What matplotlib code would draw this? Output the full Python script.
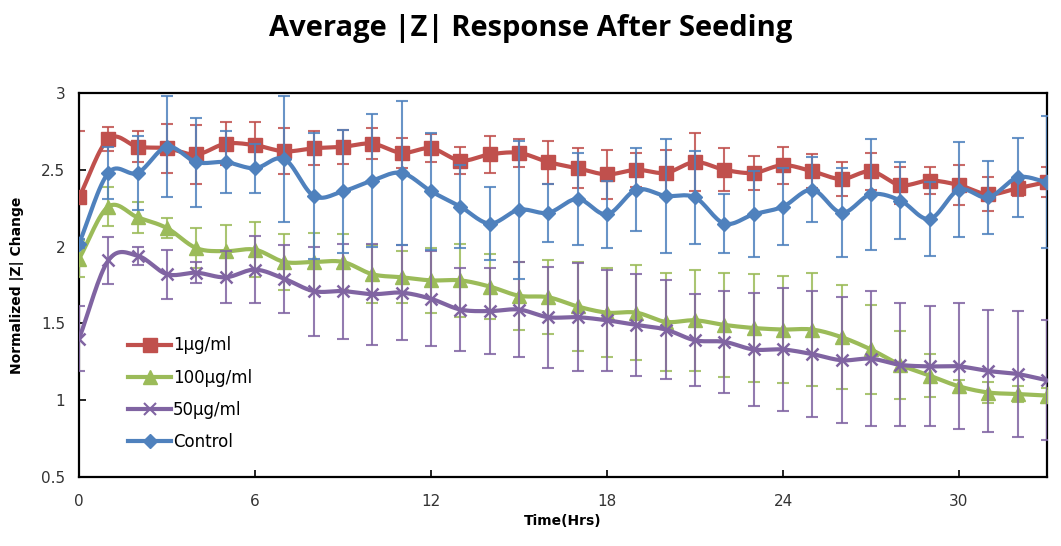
import numpy as np
import matplotlib
matplotlib.use("Agg")
import matplotlib.pyplot as plt
from matplotlib.lines import Line2D

hours = list(range(34))

dose_1 = [2.32, 2.70, 2.65, 2.64, 2.60, 2.67, 2.66, 2.62, 2.64, 2.65, 2.67, 2.61,
          2.64, 2.56, 2.60, 2.61, 2.55, 2.51, 2.47, 2.50, 2.48, 2.55, 2.50, 2.48,
          2.53, 2.49, 2.44, 2.49, 2.40, 2.43, 2.40, 2.34, 2.38, 2.42]
err_1 = [0.43, 0.08, 0.10, 0.16, 0.19, 0.14, 0.15, 0.15, 0.11, 0.11, 0.10, 0.10,
         0.09, 0.09, 0.12, 0.09, 0.14, 0.13, 0.16, 0.11, 0.15, 0.19, 0.14, 0.11,
         0.12, 0.11, 0.11, 0.12, 0.12, 0.09, 0.13, 0.11, 0.05, 0.10]

dose_100 = [1.92, 2.26, 2.19, 2.12, 1.99, 1.97, 1.98, 1.90, 1.90, 1.90, 1.82, 1.80,
            1.78, 1.78, 1.74, 1.68, 1.67, 1.61, 1.57, 1.57, 1.51, 1.52, 1.49, 1.47,
            1.46, 1.46, 1.41, 1.33, 1.23, 1.16, 1.09, 1.05, 1.04, 1.03]
err_100 = [0.12, 0.125, 0.10, 0.065, 0.13, 0.17, 0.18, 0.18, 0.19, 0.18, 0.19, 0.17,
           0.21, 0.24, 0.21, 0.22, 0.24, 0.29, 0.29, 0.31, 0.32, 0.33, 0.34, 0.35,
           0.35, 0.37, 0.34, 0.29, 0.22, 0.14, 0.04, 0.07, 0.05, 0.05]

dose_50 = [1.40, 1.91, 1.94, 1.82, 1.83, 1.80, 1.85, 1.79, 1.71, 1.71, 1.69, 1.70,
           1.66, 1.59, 1.58, 1.59, 1.54, 1.54, 1.52, 1.49, 1.46, 1.39, 1.38, 1.33,
           1.33, 1.30, 1.26, 1.27, 1.23, 1.22, 1.22, 1.19, 1.17, 1.13]
err_50 = [0.21, 0.155, 0.06, 0.16, 0.07, 0.17, 0.22, 0.22, 0.29, 0.31, 0.33, 0.31,
          0.31, 0.27, 0.28, 0.31, 0.33, 0.35, 0.33, 0.33, 0.32, 0.30, 0.33, 0.37,
          0.40, 0.41, 0.41, 0.44, 0.40, 0.39, 0.41, 0.40, 0.41, 0.39]

control = [2.02, 2.48, 2.48, 2.65, 2.55, 2.55, 2.51, 2.57, 2.33, 2.36, 2.43, 2.48,
           2.36, 2.26, 2.15, 2.24, 2.22, 2.31, 2.21, 2.37, 2.33, 2.32, 2.15, 2.21,
           2.26, 2.37, 2.22, 2.34, 2.30, 2.18, 2.37, 2.32, 2.45, 2.42]
err_control = [0.03, 0.17, 0.24, 0.33, 0.29, 0.20, 0.16, 0.41, 0.41, 0.40, 0.43, 0.47,
               0.38, 0.27, 0.24, 0.45, 0.19, 0.30, 0.22, 0.27, 0.37, 0.30, 0.19, 0.28,
               0.25, 0.21, 0.29, 0.36, 0.25, 0.24, 0.31, 0.24, 0.26, 0.43]

series = [
    ("1µg/ml", dose_1, err_1, "#C0504D", "s", 10),
    ("100µg/ml", dose_100, err_100, "#9BBB59", "^", 10),
    ("50µg/ml", dose_50, err_50, "#8064A2", "x", 9),
    ("Control", control, err_control, "#4F81BD", "D", 7),
]


def smooth(x, y, n=16):
    # catmull-rom curve, close to the excel "smoothed line" look
    x = np.asarray(x, float)
    y = np.asarray(y, float)
    px = np.concatenate([[2 * x[0] - x[1]], x, [2 * x[-1] - x[-2]]])
    py = np.concatenate([[2 * y[0] - y[1]], y, [2 * y[-1] - y[-2]]])
    t = np.linspace(0, 1, n, endpoint=False)
    xs, ys = [], []
    for i in range(1, len(px) - 2):
        for p, out in ((px, xs), (py, ys)):
            p0, p1, p2, p3 = p[i - 1], p[i], p[i + 1], p[i + 2]
            out.extend(0.5 * (2 * p1 + (-p0 + p2) * t
                              + (2 * p0 - 5 * p1 + 4 * p2 - p3) * t ** 2
                              + (-p0 + 3 * p1 - 3 * p2 + p3) * t ** 3))
    xs.append(x[-1])
    ys.append(y[-1])
    return np.array(xs), np.array(ys)


fig = plt.figure(figsize=(10.61, 5.46), dpi=100)
ax = fig.add_axes([0.0745, 0.1264, 0.9123, 0.7033])

handles = []
for k, (name, vals, errs, col, mk, ms) in enumerate(series):
    ax.errorbar(hours, vals, yerr=errs, fmt="none", ecolor=col, elinewidth=1.5,
                capsize=4, capthick=1.5, alpha=0.85, zorder=2 + k)
    sx, sy = smooth(hours, vals)
    ax.plot(sx, sy, color=col, lw=3.0, zorder=3 + k, solid_capstyle="round")
    if mk == "x":
        ax.plot(hours, vals, ls="none", marker=mk, ms=ms, mew=1.8,
                color=col, zorder=3 + k)
    else:
        ax.plot(hours, vals, ls="none", marker=mk, ms=ms, mec=col, mfc=col,
                zorder=3 + k)
    handles.append(Line2D([], [], color=col, lw=3.0, marker=mk, ms=ms,
                          mew=1.5 if mk == "x" else 1))

ax.set_xlim(0, 33)
ax.set_ylim(0.5, 3)
ax.set_xticks([0, 6, 12, 18, 24, 30])
ax.set_yticks([0.5, 1, 1.5, 2, 2.5, 3])
ax.set_yticklabels(["0.5", "1", "1.5", "2", "2.5", "3"])
ax.tick_params(direction="in", length=5, width=1.2, labelsize=11,
               labelcolor="#333333")
ax.tick_params(axis="x", pad=12)
ax.tick_params(axis="y", pad=10)
for sp in ax.spines.values():
    sp.set_linewidth(1.6)
    sp.set_color("black")

ax.set_xlabel("Time(Hrs)", fontsize=10, fontweight="bold", labelpad=4)
ax.set_ylabel("Normalized |Z| Change", fontsize=10, fontweight="bold", labelpad=12)
fig.suptitle("Average |Z| Response After Seeding", fontsize=21, fontweight="bold",
             fontfamily="Open Sans", y=0.975)

ax.legend(handles, [s[0] for s in series], loc="upper left",
          bbox_to_anchor=(0.035, 0.405), frameon=False, fontsize=12,
          handlelength=2.6, labelspacing=0.85, handletextpad=0.1)

fig.savefig("out.png", dpi=100)
